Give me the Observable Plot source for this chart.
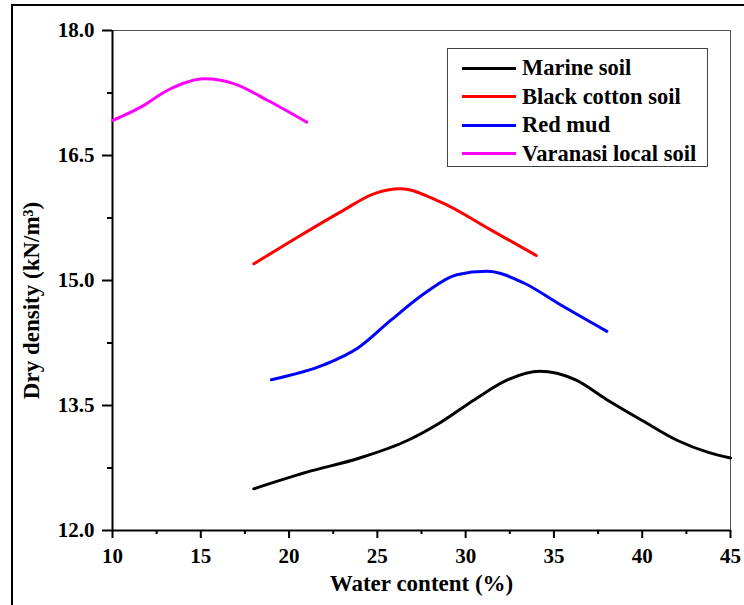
<!DOCTYPE html>
<html><head><meta charset="utf-8">
<script src="https://cdn.jsdelivr.net/npm/d3@7"></script>
<script src="https://cdn.jsdelivr.net/npm/@observablehq/plot@0.6"></script>
<style>
body{margin:0;background:#fff;font-family:"Liberation Serif","Times New Roman",serif;}
#wrap{position:relative;width:744px;height:605px;overflow:hidden;}
#frame{position:absolute;left:11px;top:4px;width:800px;height:700px;border-left:2px solid #000;border-top:2px solid #000;}
#legend{position:absolute;left:447px;top:48px;width:261px;height:119px;border:1px solid #444;background:#fff;box-sizing:border-box;font-weight:bold;font-size:22.5px;}
.row{position:absolute;left:14px;height:28px;display:flex;align-items:center;}
.sw{width:54px;height:0;border-top:3px solid;margin-right:6px;}
svg{position:absolute;left:0;top:0;}
</style></head>
<body><div id="wrap"><div id="frame"></div></div>
<script>
const seriesNames = ["Marine soil","Black cotton soil","Red mud","Varanasi local soil"];
const seriesColors = ["#000000","#ff0000","#0000ff","#ff00ff"];
const marineX = [18,21,24,26.7,28.6,30.5,32.4,34.2,36.2,38,40,42,43.7,45];
const marineY = [12.50,12.70,12.87,13.08,13.30,13.57,13.81,13.91,13.81,13.57,13.32,13.08,12.94,12.87];
const blackX = [18,20.1,22.9,24.8,26.3,28.6,31.4,34];
const blackY = [15.20,15.47,15.82,16.04,16.10,15.94,15.61,15.30];
const redX = [19,22,23.9,25.8,27.7,29.5,31.2,33.3,35.2,38];
const redY = [13.81,13.99,14.19,14.53,14.85,15.07,15.11,14.97,14.73,14.39];
const varX = [10,11.6,13.1,15.2,16.9,18.8,21];
const varY = [16.92,17.08,17.28,17.42,17.36,17.16,16.90];
const xTicks = [10,15,20,25,30,35,40,45];
const xMinor = [12.5,17.5,22.5,27.5,32.5,37.5,42.5];
const yTicks = [12.0,13.5,15.0,16.5,18.0];
const yMinor = [12.75,14.25,15.75,17.25];

const xs=[marineX,blackX,redX,varX], ys=[marineY,blackY,redY,varY];
const data=[];
xs.forEach((arr,i)=>arr.forEach((x,j)=>data.push({series:seriesNames[i],x,y:ys[i][j]})));

const FF="'Liberation Serif','Times New Roman',serif";
const chart = Plot.plot({
  width:744, height:605,
  marginLeft:112, marginRight:14, marginTop:30, marginBottom:75,
  style:{fontFamily:FF, background:"transparent", overflow:"visible"},
  x:{domain:[10,45]},
  y:{domain:[12,18]},
  color:{domain:seriesNames, range:seriesColors},
  marks:[
    Plot.ruleY([18],{stroke:"#555",strokeWidth:1}),
    Plot.ruleX([45],{stroke:"#555",strokeWidth:1}),
    Plot.axisX(xMinor,{tickSize:4,strokeWidth:2,tickFormat:()=>"",label:null}),
    Plot.axisY(yMinor,{tickSize:5,strokeWidth:2,tickFormat:()=>"",label:null}),
    Plot.axisX(xTicks,{tickSize:8,strokeWidth:2,tickPadding:10,tickFormat:d=>String(d),label:"Water content (%)",labelAnchor:"center",labelArrow:"none",labelOffset:60}),
    Plot.axisY(yTicks,{tickSize:10,strokeWidth:2,tickPadding:8,tickFormat:d=>d.toFixed(1),label:"Dry density (kN/m³)",labelAnchor:"center",labelArrow:"none",labelOffset:90}),
    Plot.ruleY([12],{stroke:"#000",strokeWidth:2}),
    Plot.ruleX([10],{stroke:"#000",strokeWidth:2}),
    Plot.line(data,{x:"x",y:"y",z:"series",stroke:"series",strokeWidth:3,curve:"monotone-x"})
  ]
});
d3.select(chart).attr("font-family",FF).attr("font-weight","bold");
d3.select(chart).selectAll("text").attr("font-weight","bold").attr("font-size",21).attr("font-family",FF);
d3.select(chart).selectAll("g[aria-label='x-axis label'] text, g[aria-label='y-axis label'] text").attr("font-size",23);
d3.select(chart).selectAll("g[aria-label='y-axis label'] text").attr("dx",-20);
document.getElementById("wrap").appendChild(chart);

const lg=document.createElement("div"); lg.id="legend";
seriesNames.forEach((n,i)=>{
  const r=document.createElement("div"); r.className="row"; r.style.top=(5+i*28.5)+"px";
  const s=document.createElement("div"); s.className="sw"; s.style.borderTopColor=seriesColors[i];
  const t=document.createElement("span"); t.textContent=n;
  r.appendChild(s); r.appendChild(t); lg.appendChild(r);
});
document.getElementById("wrap").appendChild(lg);
</script></body></html>
